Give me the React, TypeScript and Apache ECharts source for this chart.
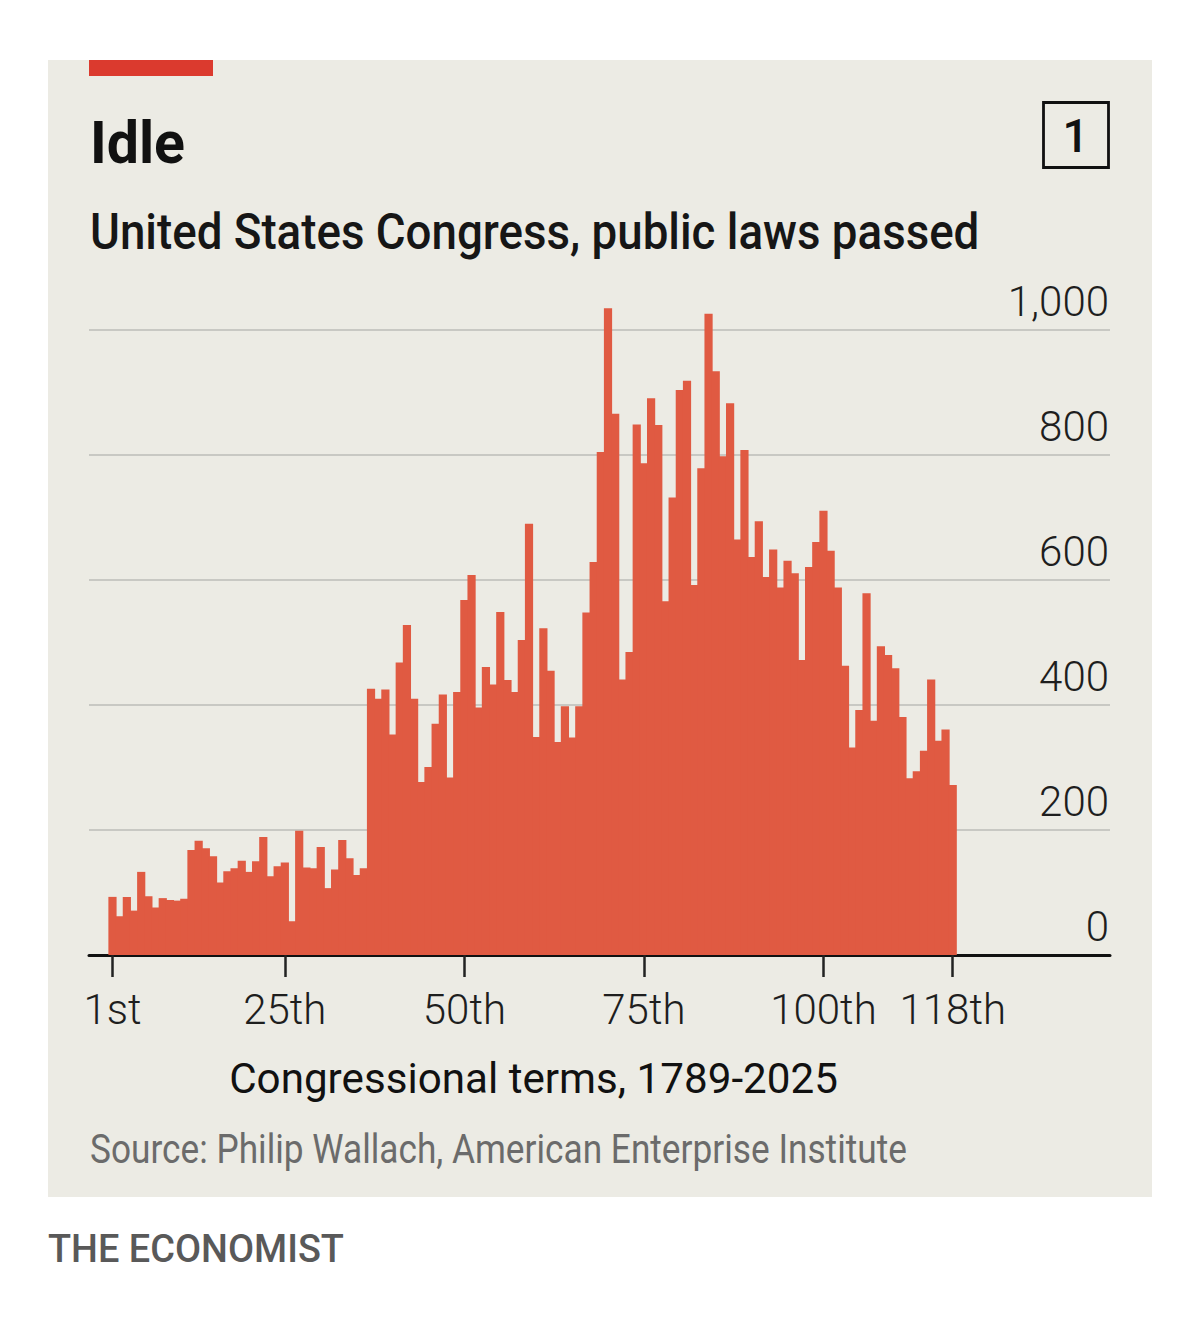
import React, { useEffect, useRef } from "react";
import * as echarts from "echarts";

// Public laws passed per Congress (1st .. 118th)
const lawsPassed: number[] = [
  93, 62, 93, 71, 133, 94, 76, 91, 88, 87,
  90, 168, 183, 171, 158, 116, 134, 139, 151, 133,
  150, 189, 126, 142, 148, 54, 199, 140, 139, 173,
  107, 137, 184, 155, 128, 139, 426, 410, 425, 353,
  468, 528, 410, 277, 301, 370, 417, 284, 421, 568,
  608, 396, 461, 433, 549, 440, 421, 504, 690, 349,
  523, 455, 341, 398, 348, 398, 548, 629, 805, 1035,
  866, 441, 485, 849, 787, 891, 848, 566, 732, 904,
  919, 592, 779, 1026, 934, 798, 883, 665, 808, 637,
  694, 605, 649, 588, 631, 611, 472, 621, 661, 711,
  647, 588, 463, 332, 392, 579, 375, 494, 480, 459,
  381, 283, 294, 327, 441, 343, 361, 272,
];

const xTickValues: number[] = [1, 25, 50, 75, 100, 118];
const xTickLabels: string[] = ["1st", "25th", "50th", "75th", "100th", "118th"];

const TITLE = "Idle";
const SUBTITLE = "United States Congress, public laws passed";
const X_NAME = "Congressional terms, 1789-2025";
const SOURCE = "Source: Philip Wallach, American Enterprise Institute";
const BRAND = "THE ECONOMIST";
const CHART_NO = "1";

const FONT = "Roboto";

function measure(text: string, size: number, weight: number | string): number {
  const c = document.createElement("canvas").getContext("2d");
  if (!c) return text.length * size * 0.5;
  c.font = `${weight} ${size}px ${FONT}`;
  return c.measureText(text).width;
}

function fitText(
  text: string,
  x: number,
  y: number,
  width: number,
  size: number,
  weight: number | string,
  fill: string,
  align: "left" | "center" = "left"
) {
  const w = measure(text, size, weight);
  const sx = w > 0 ? width / w : 1;
  return {
    type: "text",
    x,
    y,
    scaleX: sx,
    silent: true,
    z: 10,
    style: {
      text,
      x: 0,
      y: 0,
      fontFamily: FONT,
      fontSize: size,
      fontWeight: weight,
      fill,
      textAlign: align,
      align,
      textVerticalAlign: "middle",
      verticalAlign: "middle",
    },
  };
}

function fmtThousands(v: number): string {
  return String(v).replace(/\B(?=(\d{3})+(?!\d))/g, ",");
}

export default function App() {
  const ref = useRef<HTMLDivElement>(null);

  useEffect(() => {
    if (!ref.current) return;
    const chart = echarts.init(ref.current, null, { renderer: "svg" });

    const option: any = {
      animation: false,
      backgroundColor: "#ffffff",
      grid: { left: 89, right: 90, top: 330, bottom: 371, containLabel: false },
      xAxis: {
        type: "value",
        min: -2.27,
        max: 139.9,
        splitLine: { show: false },
        axisLine: { show: true, onZero: false, lineStyle: { color: "#111111", width: 3 } },
        axisTick: {
          show: true,
          customValues: xTickValues,
          length: 22,
          lineStyle: { color: "#222222", width: 2.5 },
        },
        axisLabel: {
          show: true,
          customValues: xTickValues,
          formatter: (v: number) => {
            const i = xTickValues.indexOf(Math.round(v));
            return i >= 0 ? xTickLabels[i] : "";
          },
          fontFamily: FONT,
          fontSize: 42,
          fontWeight: 300,
          lineHeight: 42,
          color: "#1e1e1e",
          margin: 33,
        },
      },
      yAxis: {
        type: "value",
        position: "right",
        min: 0,
        max: 1000,
        interval: 200,
        axisLine: { show: false },
        axisTick: { show: false },
        splitLine: { show: true, lineStyle: { color: "#c8c8c3", width: 2 } },
        axisLabel: {
          inside: true,
          margin: 1,
          fontFamily: FONT,
          fontSize: 42,
          fontWeight: 300,
          lineHeight: 58,
          verticalAlign: "bottom",
          color: "#1e1e1e",
          formatter: (v: number) => fmtThousands(v),
        },
      },
      series: [
        {
          type: "bar",
          data: lawsPassed.map((v, i) => [i + 1, v]),
          barWidth: 8.2,
          clip: false,
          itemStyle: { color: "#E05A42" },
          z: 3,
        },
      ],
      graphic: [
        {
          type: "rect",
          z: -10,
          silent: true,
          shape: { x: 48, y: 60, width: 1104, height: 1137 },
          style: { fill: "#ECEBE4" },
        },
        {
          type: "rect",
          z: 10,
          silent: true,
          shape: { x: 89, y: 60, width: 124, height: 16 },
          style: { fill: "#DB3A2E" },
        },
        fitText(TITLE, 90, 143, 95, 60, 700, "#111111"),
        fitText(SUBTITLE, 90, 232, 890, 50, 500, "#161616"),
        {
          type: "rect",
          z: 10,
          silent: true,
          shape: { x: 1043.5, y: 102.5, width: 65, height: 65 },
          style: { fill: "none", stroke: "#111111", lineWidth: 2.8 },
        },
        {
          type: "text",
          z: 10,
          silent: true,
          x: 1075.5,
          y: 136,
          style: {
            text: CHART_NO,
            fontFamily: FONT,
            fontSize: 46,
            fontWeight: 500,
            fill: "#111111",
            textAlign: "center",
            align: "center",
            textVerticalAlign: "middle",
            verticalAlign: "middle",
          },
        },
        fitText(X_NAME, 533.5, 1078, 609, 43, 400, "#111111", "center"),
        fitText(SOURCE, 90, 1149, 817, 40, 400, "#6b6b6b"),
        fitText(BRAND, 48, 1248, 296, 39, 500, "#595959"),
      ],
    };

    chart.setOption(option);
    return () => chart.dispose();
  }, []);

  return (
    <div
      ref={ref}
      style={{ position: "absolute", left: 0, top: 0, width: 1200, height: 1326 }}
    />
  );
}
